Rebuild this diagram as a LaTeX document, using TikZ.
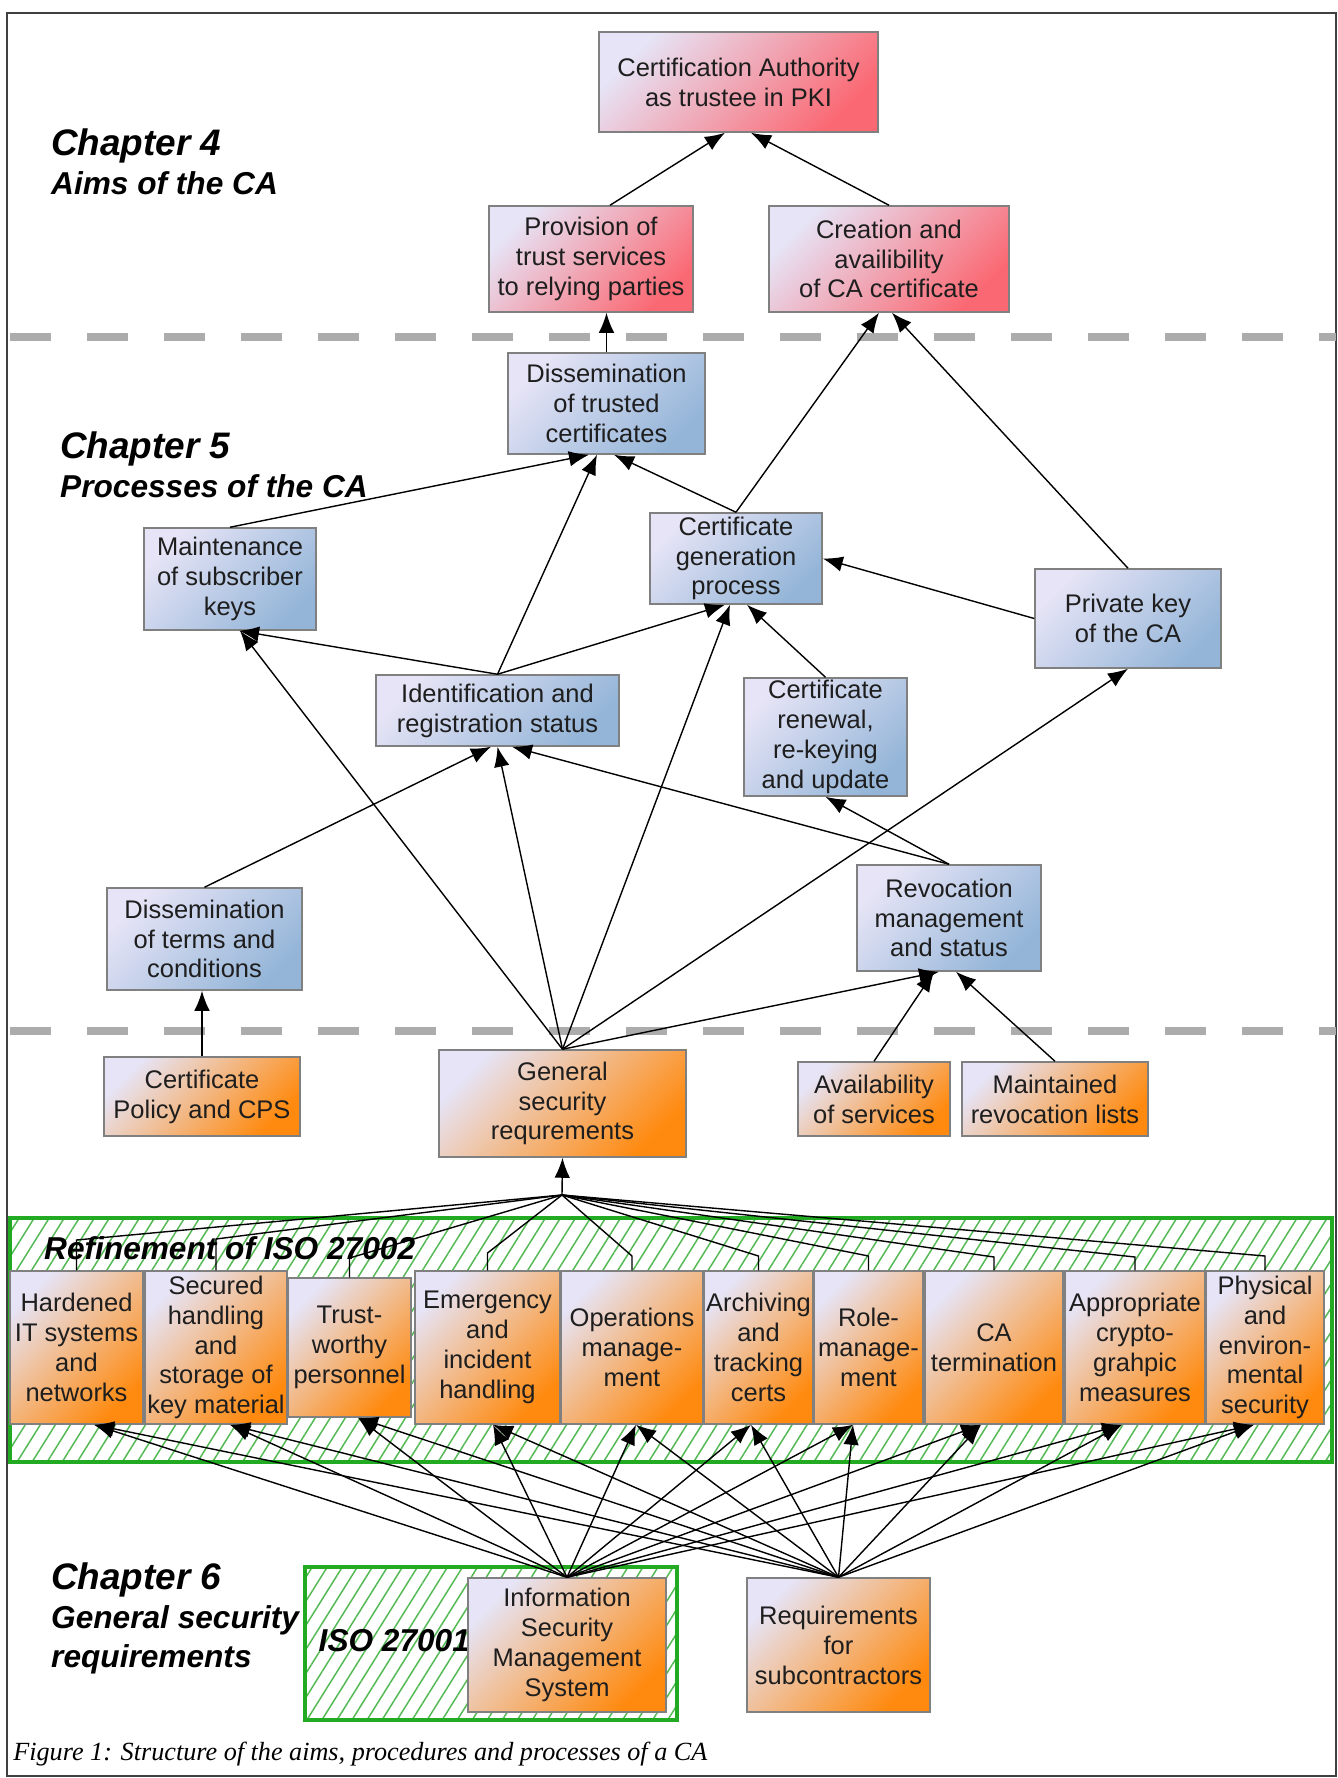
\documentclass[tikz,border=0pt]{standalone}
\usepackage{fontspec}
\setmainfont{Liberation Serif}
\setsansfont{Liberation Sans}
\usetikzlibrary{arrows.meta,patterns.meta}

\definecolor{lavender}{RGB}{230,228,246}
\definecolor{aimred}{RGB}{250,105,115}
\definecolor{procblue}{RGB}{148,181,216}
\definecolor{reqorange}{RGB}{255,138,15}
\definecolor{boxgray}{RGB}{128,128,128}
\definecolor{sepgray}{RGB}{172,172,172}
\definecolor{bandgreen}{RGB}{35,170,35}
\definecolor{hatchgreen}{RGB}{85,185,85}
\definecolor{textdark}{RGB}{30,30,30}

\tikzset{
  box/.style={draw=boxgray, line width=0.3mm, align=center, inner sep=1pt,
    text=textdark, font=\sffamily\fontsize{14.5}{17}\selectfont},
  aimbox/.style={box, top color=lavender, bottom color=aimred, shading angle=45},
  procbox/.style={box, top color=lavender, bottom color=procblue, shading angle=45},
  reqbox/.style={box, top color=lavender, bottom color=reqorange, shading angle=45},
  rowbox/.style={reqbox, minimum height=3.06cm},
  arr/.style={-{Latex[length=4mm,width=3.1mm]}, line width=0.28mm},
  chap/.style={anchor=west, align=left, text=black,
    font=\sffamily\bfseries\itshape\fontsize{18}{22}\selectfont},
  sepline/.style={line width=1.7mm, draw=sepgray, dash pattern=on 8.2mm off 7.2mm},
  band/.style={draw=bandgreen, line width=0.9mm,
    pattern={Lines[angle=58,distance=2.55mm,line width=0.3mm]}, pattern color=hatchgreen}
}

\begin{document}
\begin{tikzpicture}
  \useasboundingbox (0,0) rectangle (26.76,-35.56);
  \draw[line width=0.3mm, draw=black!75] (0.14,-0.26) rectangle (26.72,-35.52);

  % chapter borders
  \draw[sepline] (0.2,-6.74) -- (26.72,-6.74);
  \draw[sepline] (0.2,-20.62) -- (26.72,-20.62);

  % hatched areas
  \draw[band] (0.2,-24.36) rectangle (26.64,-29.24);
  \draw[band] (6.1,-31.34) rectangle (13.54,-34.4);

  % chapter titles
  \node[chap] (ch4) at (0.9,-3.23) {{\fontsize{21}{24}\selectfont Chapter 4}\\Aims of the CA};
  \node[chap] (ch5) at (1.08,-9.3) {{\fontsize{21}{24}\selectfont Chapter 5}\\Processes of the CA};
  \node[chap] (ch6) at (0.9,-32.37) {{\fontsize{21}{24}\selectfont Chapter 6}\\General security\\requirements};
  \node[chap] (iso2) at (0.76,-24.96) {Refinement of ISO 27002};
  \node[chap] (iso1) at (6.25,-32.82) {ISO 27001};

  % Chapter 4: aims
  \node[aimbox, minimum width=5.58cm, minimum height=2.0cm] (ca) at (14.77,-1.64)
    {Certification Authority\\as trustee in PKI};
  \node[aimbox, minimum width=4.08cm, minimum height=2.12cm] (prov) at (11.82,-5.18)
    {Provision of\\trust services\\to relying parties};
  \node[aimbox, minimum width=4.8cm, minimum height=2.12cm] (creat) at (17.78,-5.18)
    {Creation and\\availibility\\of CA certificate};

  % Chapter 5: processes
  \node[procbox, minimum width=3.94cm, minimum height=2.02cm] (disstr) at (12.13,-8.07)
    {Dissemination\\of trusted\\certificates};
  \node[procbox, minimum width=3.44cm, minimum height=2.04cm] (maint) at (4.6,-11.58)
    {Maintenance\\of subscriber\\keys};
  \node[procbox, minimum width=3.44cm, minimum height=1.82cm] (certgen) at (14.72,-11.17)
    {Certificate\\generation\\process};
  \node[procbox, minimum width=3.72cm, minimum height=1.98cm] (privkey) at (22.56,-12.37)
    {Private key\\of the CA};
  \node[procbox, minimum width=4.86cm, minimum height=1.42cm] (ident) at (9.95,-14.21)
    {Identification and\\registration status};
  \node[procbox, minimum width=3.26cm, minimum height=2.36cm] (renew) at (16.51,-14.74)
    {Certificate\\renewal,\\re-keying\\and update};
  \node[procbox, minimum width=3.9cm, minimum height=2.04cm] (disterm) at (4.09,-18.78)
    {Dissemination\\of terms and\\conditions};
  \node[procbox, minimum width=3.68cm, minimum height=2.12cm] (revoc) at (18.98,-18.36)
    {Revocation\\management\\and status};

  % Chapter 6: requirements
  \node[reqbox, minimum width=3.92cm, minimum height=1.58cm] (policy) at (4.04,-21.93)
    {Certificate\\Policy and CPS};
  \node[reqbox, minimum width=4.94cm, minimum height=2.14cm] (general) at (11.25,-22.07)
    {General\\security\\requrements};
  \node[reqbox, minimum width=3.04cm, minimum height=1.48cm] (avail) at (17.48,-21.98)
    {Availability\\of services};
  \node[reqbox, minimum width=3.72cm, minimum height=1.48cm] (maintrev) at (21.1,-21.98)
    {Maintained\\revocation lists};

  \node[rowbox, minimum width=2.66cm] (hard) at (1.53,-26.95) {Hardened\\IT systems\\and\\networks};
  \node[rowbox, minimum width=2.84cm] (secur) at (4.32,-26.95) {Secured\\handling\\and\\storage of\\key material};
  \node[rowbox, minimum width=2.46cm, minimum height=2.78cm] (trust) at (6.99,-26.95) {Trust-\\worthy\\personnel};
  \node[rowbox, minimum width=2.9cm] (emerg) at (9.75,-26.95) {Emergency\\and\\incident\\handling};
  \node[rowbox, minimum width=2.84cm] (oper) at (12.64,-26.95) {Operations\\manage-\\ment};
  \node[rowbox, minimum width=2.14cm] (arch) at (15.17,-26.95) {Archiving\\and\\tracking\\certs};
  \node[rowbox, minimum width=2.18cm] (role) at (17.37,-26.95) {Role-\\manage-\\ment};
  \node[rowbox, minimum width=2.76cm] (term) at (19.88,-26.95) {CA\\termination};
  \node[rowbox, minimum width=2.8cm] (approp) at (22.7,-26.95) {Appropriate\\crypto-\\grahpic\\measures};
  \node[rowbox, minimum width=2.36cm] (phys) at (25.3,-26.95) {Physical\\and\\environ-\\mental\\security};

  \node[reqbox, minimum width=3.96cm, minimum height=2.68cm] (isms) at (11.34,-32.9)
    {Information\\Security\\Management\\System};
  \node[reqbox, minimum width=3.66cm, minimum height=2.68cm] (req) at (16.77,-32.9)
    {Requirements\\for\\subcontractors};

  % arrows between aims and processes
  \draw[arr] ([xshift=0.38cm]prov.north) -- ([xshift=-0.27cm]ca.south);
  \draw[arr] (creat.north) -- ([xshift=0.25cm]ca.south);
  \draw[arr] (disstr.north) -- (disstr.north |- prov.south);
  \draw[arr] (certgen.north) -- ([xshift=-0.2cm]creat.south);
  \draw[arr] (privkey.north) -- ([xshift=0.06cm]creat.south);
  \draw[arr] (maint.north) -- ([xshift=-0.35cm]disstr.south);
  \draw[arr] (ident.north) -- ([xshift=-0.19cm]disstr.south);
  \draw[arr] (certgen.north) -- ([xshift=0.15cm]disstr.south);
  \draw[arr] (privkey.west) -- (certgen.east);
  \draw[arr] (ident.north) -- ([xshift=0.18cm]maint.south);
  \draw[arr] (ident.north) -- ([xshift=-0.22cm]certgen.south);
  \draw[arr] (renew.north) -- ([xshift=0.22cm]certgen.south);
  \draw[arr] (general.north) -- ([xshift=0.2cm]maint.south);
  \draw[arr] (general.north) -- (ident.south);
  \draw[arr] (disterm.north) -- ([xshift=-0.13cm]ident.south);
  \draw[arr] (revoc.north) -- ([xshift=0.29cm]ident.south);
  \draw[arr] (general.north) -- ([xshift=-0.12cm]certgen.south);
  \draw[arr] (general.north) -- (privkey.south);
  \draw[arr] (general.north) -- ([xshift=-0.2cm]revoc.south);
  \draw[arr] (revoc.north) -- (renew.south);
  \draw[arr] (policy.north) -- (policy.north |- disterm.south);
  \draw[arr] (avail.north) -- ([xshift=-0.3cm]revoc.south);
  \draw[arr] (maintrev.north) -- ([xshift=0.14cm]revoc.south);

  % refinement of ISO 27002
  \coordinate (apex) at (11.24,-23.9);
  \draw[arr] (apex) -- (general.south);
  \foreach \b/\yb in {hard/-24.8, secur/-24.78, trust/-25.16, emerg/-25.06, oper/-25.12,
      arch/-25.12, role/-25.12, term/-25.14, approp/-25.14, phys/-25.12}
    \draw[line width=0.28mm] (apex) -- (\b.north |- 0,\yb) -- (\b.north);

  % ISMS and subcontractors
  \foreach \b/\dx in {hard/0.35, secur/0.28, trust/0.17, emerg/0.11, oper/0.08,
      arch/-0.15, role/-0.31, term/-0.26, approp/-0.26, phys/-0.22} {
    \draw[arr] (isms.north) -- ([xshift=\dx cm]\b.south);
    \draw[arr] (req.north) -- ([xshift=\dx cm]\b.south);
  }

  \node[anchor=west, inner sep=0pt, font=\itshape\fontsize{14.9}{17}\selectfont] (caption) at (0.26,-35.08)
    {Figure 1: Structure of the aims, procedures and processes of a CA};
\end{tikzpicture}
\end{document}
